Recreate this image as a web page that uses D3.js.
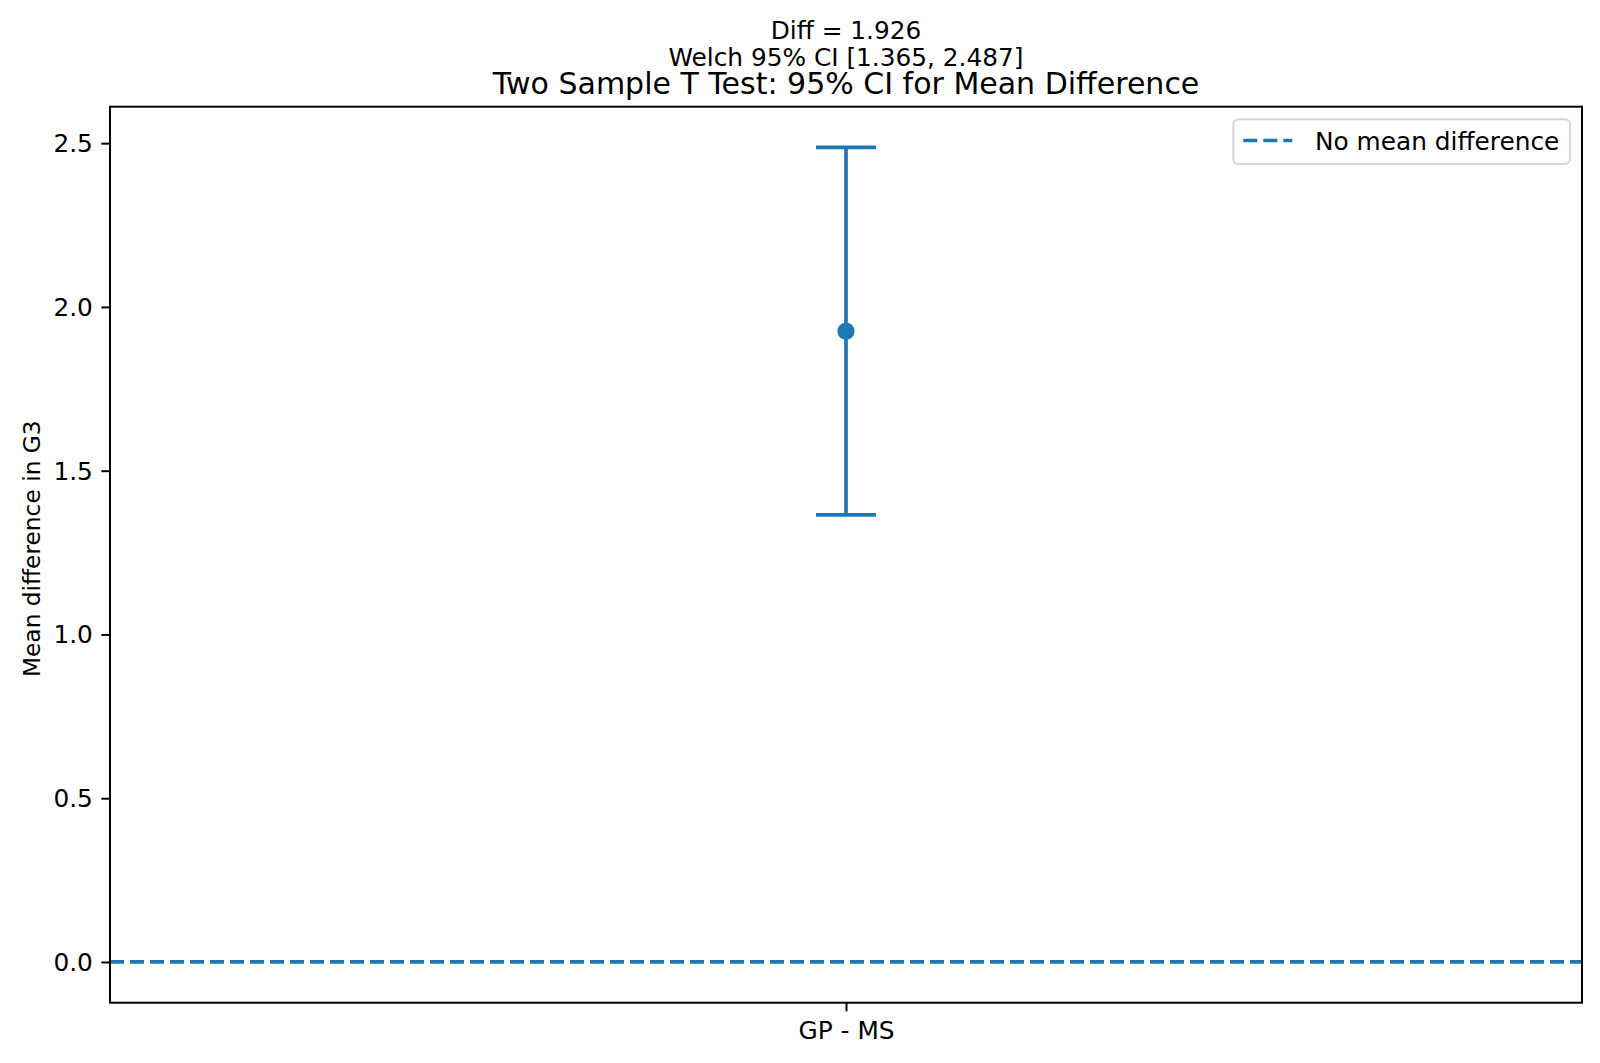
<!DOCTYPE html>
<html>
<head>
<meta charset="utf-8">
<script src="https://cdn.jsdelivr.net/npm/d3@7"></script>
<style>
  html, body { margin: 0; padding: 0; background: #fff; }
  svg { display: block; font-family: "DejaVu Sans", sans-serif; }
</style>
</head>
<body>
<svg id="chart" width="1600" height="1063"></svg>
<script>
// ---- data ----
const categories = ["GP - MS"];
const meanDiff = [1.926];
const ciLow = [1.365];
const ciHigh = [2.487];
const refLine = 0;
const yTicks = [0.0, 0.5, 1.0, 1.5, 2.0, 2.5];
const titleLines = ["Diff = 1.926", "Welch 95% CI [1.365, 2.487]"];
const titleText = "Two Sample T Test: 95% CI for Mean Difference";
const yLabel = "Mean difference in G3";
const legendLabel = "No mean difference";

// ---- layout ----
const W = 1600, H = 1063;
const L = 110, R = 1582, T = 106.7, B = 1002.7;
const color = "#1f77b4";
const fs = 24.8;

const svg = d3.select("#chart");

// y domain with matplotlib-like 5% margins
const lo = Math.min(refLine, d3.min(ciLow)), hi = Math.max(refLine, d3.max(ciHigh));
const m = (hi - lo) * 0.05;
const y = d3.scaleLinear().domain([lo - m, hi + m]).range([B, T]);
const x = d3.scalePoint().domain(categories).range([L, R]).padding(0.5);

// clip
svg.append("clipPath").attr("id", "clip")
  .append("rect").attr("x", L).attr("y", T).attr("width", R - L).attr("height", B - T);

const plot = svg.append("g").attr("clip-path", "url(#clip)");

// reference line
plot.append("line")
  .attr("x1", L).attr("x2", R)
  .attr("y1", y(refLine)).attr("y2", y(refLine))
  .attr("stroke", color).attr("stroke-width", 3.7)
  .attr("stroke-dasharray", "14,6");

// error bars
const cap = 30;
categories.forEach((c, i) => {
  const cx = x(c);
  plot.append("line").attr("x1", cx).attr("x2", cx)
    .attr("y1", y(ciLow[i])).attr("y2", y(ciHigh[i]))
    .attr("stroke", color).attr("stroke-width", 3.7);
  [ciLow[i], ciHigh[i]].forEach(v => {
    plot.append("line").attr("x1", cx - cap).attr("x2", cx + cap)
      .attr("y1", y(v)).attr("y2", y(v))
      .attr("stroke", color).attr("stroke-width", 3.7);
  });
  plot.append("circle").attr("cx", cx).attr("cy", y(meanDiff[i]))
    .attr("r", 8.6).attr("fill", color);
});

// axes
const yAxis = d3.axisLeft(y).tickValues(yTicks).tickFormat(d3.format(".1f"))
  .tickSize(8.6).tickPadding(8.6);
const gy = svg.append("g").attr("transform", `translate(${L},0)`).call(yAxis);
gy.select(".domain").remove();
gy.selectAll(".tick line").attr("stroke", "#000").attr("stroke-width", 2);
gy.selectAll(".tick text").attr("font-size", fs).attr("fill", "#000")
  .attr("font-family", "DejaVu Sans").attr("dy", null)
  .attr("dominant-baseline", "central");

const xAxis = d3.axisBottom(x).tickSize(8.6).tickPadding(8.6);
const gx = svg.append("g").attr("transform", `translate(0,${B})`).call(xAxis);
gx.select(".domain").remove();
gx.selectAll(".tick line").attr("stroke", "#000").attr("stroke-width", 2);
gx.selectAll(".tick text").attr("font-size", fs).attr("fill", "#000")
  .attr("font-family", "DejaVu Sans").attr("dy", null).attr("y", 36.5)
  .attr("dominant-baseline", "alphabetic");

// frame
svg.append("rect").attr("x", L).attr("y", T).attr("width", R - L).attr("height", B - T)
  .attr("fill", "none").attr("stroke", "#000").attr("stroke-width", 2);

// y label
svg.append("text")
  .attr("transform", `translate(39.5,548.7) rotate(-90)`)
  .attr("text-anchor", "middle").attr("font-size", 23.3).attr("fill", "#000")
  .text(yLabel);

// titles
const cxAxes = (L + R) / 2;
svg.append("text").attr("x", cxAxes).attr("y", 38.5).attr("text-anchor", "middle")
  .attr("font-size", fs).text(titleLines[0]);
svg.append("text").attr("x", cxAxes).attr("y", 65.5).attr("text-anchor", "middle")
  .attr("font-size", fs).text(titleLines[1]);
svg.append("text").attr("x", cxAxes).attr("y", 93.5).attr("text-anchor", "middle")
  .attr("font-size", 30).text(titleText);

// legend
const lg = svg.append("g");
lg.append("rect").attr("x", 1233.3).attr("y", 119.3).attr("width", 1570 - 1233.3).attr("height", 164 - 119.3)
  .attr("rx", 5).attr("ry", 5)
  .attr("fill", "#fff").attr("fill-opacity", 0.8)
  .attr("stroke", "#d6d6d6").attr("stroke-width", 2);
lg.append("line").attr("x1", 1243.3).attr("x2", 1292.3).attr("y1", 140.5).attr("y2", 140.5)
  .attr("stroke", color).attr("stroke-width", 3.7).attr("stroke-dasharray", "14,6");
lg.append("text").attr("x", 1315).attr("y", 149.5).attr("font-size", fs).text(legendLabel);
</script>
</body>
</html>
